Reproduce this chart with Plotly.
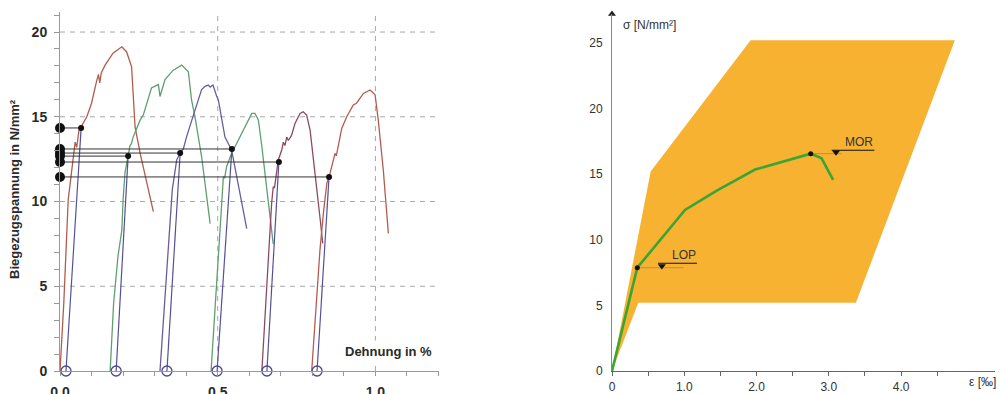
import plotly.graph_objects as go

# ---------------- Left panel data (Biegezugspannung vs Dehnung) ----------------
C1_X = [0, 0.012, 0.026, 0.04, 0.048, 0.053, 0.06, 0.085, 0.1, 0.116, 0.122, 0.126, 0.131, 0.143, 0.168, 0.196, 0.211, 0.227, 0.232, 0.238, 0.254, 0.27, 0.296]
C1_Y = [0, 4.0, 10.1, 12.5, 13.5, 13.2, 14.2, 15.0, 15.8, 17.1, 17.5, 17.0, 17.6, 18.05, 18.75, 19.13, 18.84, 17.95, 16.2, 14.4, 12.85, 11.46, 9.4]

C2_X = [0.159, 0.17, 0.184, 0.196, 0.2, 0.206, 0.222, 0.226, 0.232, 0.254, 0.264, 0.29, 0.312, 0.317, 0.333, 0.359, 0.386, 0.407, 0.417, 0.428, 0.449, 0.476]
C2_Y = [0, 4.0, 6.8, 8.3, 10.1, 11.7, 13.3, 13.4, 13.8, 14.8, 15.1, 16.7, 16.9, 16.2, 17.2, 17.75, 18.05, 17.66, 16.0, 15.0, 12.64, 8.7]

C3_X = [0.317, 0.336, 0.35, 0.356, 0.37, 0.381, 0.391, 0.401, 0.423, 0.449, 0.46, 0.47, 0.476, 0.485, 0.497, 0.502, 0.523, 0.544, 0.592]
C3_Y = [0, 5.0, 9.0, 10.7, 12.45, 12.86, 13.1, 13.8, 15.1, 16.6, 16.8, 16.87, 16.75, 16.87, 16.2, 16.0, 13.8, 13.04, 8.4]

C4_X = [0.479, 0.492, 0.503, 0.513, 0.518, 0.522, 0.528, 0.544, 0.571, 0.592, 0.608, 0.618, 0.629, 0.64, 0.655, 0.671, 0.676]
C4_Y = [0, 4.0, 7.5, 10.1, 11.46, 11.4, 12.05, 12.84, 13.8, 14.6, 15.2, 15.2, 14.8, 13.23, 10.7, 8.1, 7.5]

C5_X = [0.64, 0.65, 0.661, 0.671, 0.676, 0.68, 0.692, 0.703, 0.708, 0.713, 0.719, 0.724, 0.734, 0.745, 0.761, 0.771, 0.782, 0.793, 0.803, 0.814, 0.824, 0.833]
C5_Y = [0, 3.5, 6.74, 9.9, 10.87, 10.8, 12.45, 13.04, 13.5, 13.3, 13.8, 13.6, 13.9, 14.6, 15.2, 15.3, 15.1, 14.2, 12.64, 10.68, 9.1, 7.53]

C6_X = [0.798, 0.81, 0.824, 0.835, 0.846, 0.856, 0.872, 0.876, 0.893, 0.909, 0.93, 0.94, 0.962, 0.983, 0.999, 1.009, 1.025, 1.041]
C6_Y = [0, 3.5, 7.1, 9.3, 11.07, 11.66, 12.84, 12.7, 14.3, 15.0, 15.7, 15.8, 16.38, 16.58, 16.3, 14.8, 11.86, 8.12]

CURVES_X = [C1_X, C2_X, C3_X, C4_X, C5_X, C6_X]
CURVES_Y = [C1_Y, C2_Y, C3_Y, C4_Y, C5_Y, C6_Y]
CURVE_COLORS = ["#b35c4e", "#5f9e70", "#6a5c9e", "#5f9e70", "#8c4a62", "#b35c4e"]

CIRCLE_X = [0.019, 0.178, 0.339, 0.498, 0.656, 0.815]          # secant start (y=0)
DOT_X = [0.067, 0.216, 0.381, 0.545, 0.694, 0.853]             # LOP points
DOT_Y = [14.34, 12.68, 12.86, 13.1, 12.33, 11.45]

L_YTICKS = [0, 5, 10, 15, 20]
L_XTICK_VALS = [round(i * 0.1, 1) for i in range(13)]
L_XTICK_TEXT = ["0.0" if v == 0 else ("0.5" if v == 0.5 else ("1.0" if v == 1.0 else "")) for v in L_XTICK_VALS]
L_GRID_Y = [5, 10, 15, 20]
L_GRID_X = [0.5, 1.0]
L_XRANGE = [0, 1.2]
L_YRANGE = [0, 21.2]

# ---------------- Right panel data (schematic sigma-epsilon) ----------------
BAND_X = [0, 0.364, 3.375, 4.744, 1.918, 0.535, 0]
BAND_Y = [0, 5.2, 5.2, 25.2, 25.2, 15.2, 0]

GX = [0, 0.35, 1.01, 1.45, 1.98, 2.75, 2.9, 3.06]
GY = [0, 7.87, 12.27, 13.74, 15.35, 16.56, 16.2, 14.56]

ANN_TEXT = ["LOP", "MOR"]
ANN_IDX = [1, 5]
LEAD_END = [0.99, 3.18]
BAR_X0 = [0.636, 3.04]
BAR_X1 = [1.176, 3.63]
BAR_Y = [8.21, 16.82]
TRI_X = [0.69, 3.1]
TRI_Y = [8.0, 16.66]

R_XTICK_VALS = [0, 0.5, 1.0, 1.5, 2.0, 2.5, 3.0, 3.5, 4.0, 4.5]
R_XTICK_TEXT = ["0", "", "1.0", "", "2.0", "", "3.0", "", "4.0", ""]
R_YTICKS = [0, 5, 10, 15, 20, 25]
R_XRANGE = [0, 5.3]
R_YRANGE = [0, 27.2]

W, H = 999, 394

fig = go.Figure()

# ---- left panel traces ----
for cx, cy, col in zip(CURVES_X, CURVES_Y, CURVE_COLORS):
    fig.add_trace(go.Scatter(x=cx, y=cy, mode="lines", line=dict(color=col, width=1.3),
                             xaxis="x", yaxis="y", hoverinfo="skip", showlegend=False))

for i in range(len(DOT_X)):
    fig.add_trace(go.Scatter(x=[CIRCLE_X[i], DOT_X[i]], y=[0, DOT_Y[i]], mode="lines",
                             line=dict(color="#55509a", width=1.2), xaxis="x", yaxis="y",
                             hoverinfo="skip", showlegend=False))
    fig.add_trace(go.Scatter(x=[0, DOT_X[i]], y=[DOT_Y[i], DOT_Y[i]], mode="lines",
                             line=dict(color="#333333", width=1), xaxis="x", yaxis="y",
                             hoverinfo="skip", showlegend=False))

fig.add_trace(go.Scatter(x=DOT_X, y=DOT_Y, mode="markers", marker=dict(color="#111", size=6),
                         xaxis="x", yaxis="y", cliponaxis=False, showlegend=False, hoverinfo="skip"))
fig.add_trace(go.Scatter(x=[0] * len(DOT_Y), y=DOT_Y, mode="markers", marker=dict(color="#111", size=10),
                         xaxis="x", yaxis="y", cliponaxis=False, showlegend=False, hoverinfo="skip"))
fig.add_trace(go.Scatter(x=CIRCLE_X, y=[0] * len(CIRCLE_X), mode="markers",
                         marker=dict(symbol="circle-open", color="#4a4888", size=10, line=dict(width=1.3)),
                         xaxis="x", yaxis="y", cliponaxis=False, showlegend=False, hoverinfo="skip"))

# ---- right panel traces ----
fig.add_trace(go.Scatter(x=BAND_X, y=BAND_Y, mode="lines", fill="toself", fillcolor="#F7B232",
                         line=dict(width=0, color="#F7B232"), xaxis="x2", yaxis="y2",
                         hoverinfo="skip", showlegend=False))
for k in range(len(ANN_TEXT)):
    px0 = GX[ANN_IDX[k]]
    py0 = GY[ANN_IDX[k]]
    fig.add_trace(go.Scatter(x=[px0, LEAD_END[k]], y=[py0, py0], mode="lines",
                             line=dict(color="#9a8a70", width=0.8), xaxis="x2", yaxis="y2",
                             hoverinfo="skip", showlegend=False))
    fig.add_trace(go.Scatter(x=[BAR_X0[k], BAR_X1[k]], y=[BAR_Y[k], BAR_Y[k]], mode="lines",
                             line=dict(color="#111", width=1.2), xaxis="x2", yaxis="y2",
                             hoverinfo="skip", showlegend=False))
fig.add_trace(go.Scatter(x=TRI_X, y=TRI_Y, mode="markers",
                         marker=dict(symbol="triangle-down", color="#111", size=7),
                         xaxis="x2", yaxis="y2", hoverinfo="skip", showlegend=False))
fig.add_trace(go.Scatter(x=GX, y=GY, mode="lines", line=dict(color="#3aa535", width=2.6),
                         xaxis="x2", yaxis="y2", hoverinfo="skip", showlegend=False))
fig.add_trace(go.Scatter(x=[GX[i] for i in ANN_IDX], y=[GY[i] for i in ANN_IDX], mode="markers",
                         marker=dict(color="#111", size=5), xaxis="x2", yaxis="y2",
                         hoverinfo="skip", showlegend=False))
fig.add_trace(go.Scatter(x=[0], y=[R_YRANGE[1]], mode="markers",
                         marker=dict(symbol="triangle-up", color="#222", size=7),
                         xaxis="x2", yaxis="y2", cliponaxis=False, hoverinfo="skip", showlegend=False))

# ---- shapes: dashed grid on left ----
shapes = []
for gy in L_GRID_Y:
    shapes.append(dict(type="line", xref="x", yref="y", x0=L_XRANGE[0], x1=L_XRANGE[1], y0=gy, y1=gy,
                       line=dict(color="#a8a8a8", width=1, dash="5px,5px"), layer="below"))
for gx in L_GRID_X:
    shapes.append(dict(type="line", xref="x", yref="y", x0=gx, x1=gx, y0=0, y1=L_YRANGE[1],
                       line=dict(color="#a8a8a8", width=1, dash="5px,5px"), layer="below"))

left_font = dict(family="Arial, Liberation Sans", size=14, color="#2a2a2a", weight="bold")
right_font = dict(family="Arial, Liberation Sans", size=12, color="#333")

annotations = [
    dict(text="Biegezugspannung in N/mm²", xref="paper", yref="paper", x=15 / W, y=1 - 189 / H,
         xanchor="center", yanchor="middle",
         textangle=-90, showarrow=False, font=dict(family="Arial, Liberation Sans", size=13, color="#2a2a2a", weight="bold")),
    dict(text="Dehnung in %", xref="paper", yref="paper", x=388 / W, y=1 - 351 / H,
         xanchor="center", yanchor="middle",
         showarrow=False, bgcolor="white", borderpad=3,
         font=dict(family="Arial, Liberation Sans", size=13, color="#2a2a2a", weight="bold")),
    dict(text="σ [N/mm²]", xref="paper", yref="paper", x=621 / W, y=1 - 25 / H, xanchor="left",
         yanchor="middle", showarrow=False, font=right_font),
    dict(text="ε [‰]", xref="paper", yref="paper", x=998 / W, y=1 - 382 / H, xanchor="right",
         yanchor="middle", showarrow=False, font=right_font),
]
for k in range(len(ANN_TEXT)):
    annotations.append(dict(text=ANN_TEXT[k], xref="x2", yref="y2", x=BAR_X1[k], y=BAR_Y[k],
                            xanchor="right", yanchor="bottom", showarrow=False, font=right_font,
                            borderpad=0))

fig.update_layout(
    width=W, height=H, margin=dict(l=0, r=0, t=0, b=0, autoexpand=False),
    paper_bgcolor="white", plot_bgcolor="rgba(0,0,0,0)",
    shapes=shapes, annotations=annotations, showlegend=False,
    xaxis=dict(domain=[60 / W, 438.5 / W], range=L_XRANGE, showgrid=False, zeroline=False,
               showline=True, linecolor="#999", linewidth=1, ticks="outside", ticklen=4,
               tickcolor="#999", tickvals=L_XTICK_VALS, ticktext=L_XTICK_TEXT, automargin=False,
               tickfont=left_font, ticklabelstandoff=4, anchor="y"),
    yaxis=dict(domain=[1 - 371 / H, 1 - 11.7 / H], range=L_YRANGE, showgrid=False, zeroline=False,
               showline=True, linecolor="#999", linewidth=1, ticks="outside", ticklen=5,
               tickcolor="#999", tickvals=list(range(0, 22)), automargin=False,
               ticktext=[str(v) if v in L_YTICKS else "" for v in range(0, 22)],
               tickfont=left_font, ticklabelstandoff=4, anchor="x"),
    xaxis2=dict(domain=[612 / W, 995 / W], range=R_XRANGE, showgrid=False, zeroline=False,
                showline=True, linecolor="#666", linewidth=1, ticks="outside", ticklen=4,
                tickcolor="#666", tickvals=R_XTICK_VALS, ticktext=R_XTICK_TEXT, automargin=False,
                tickfont=right_font, ticklabelstandoff=1, anchor="y2"),
    yaxis2=dict(domain=[1 - 371 / H, 1 - 14 / H], range=R_YRANGE, showgrid=False, zeroline=False,
                showline=True, linecolor="#888", linewidth=1, ticks="", automargin=False,
                tickvals=R_YTICKS, ticktext=[str(v) for v in R_YTICKS],
                tickfont=right_font, ticklabelstandoff=6, anchor="x2"),
)

fig.write_html("out.html", config={"displayModeBar": False},
               post_script="document.body.style.margin='0';document.body.style.overflow='hidden';")
